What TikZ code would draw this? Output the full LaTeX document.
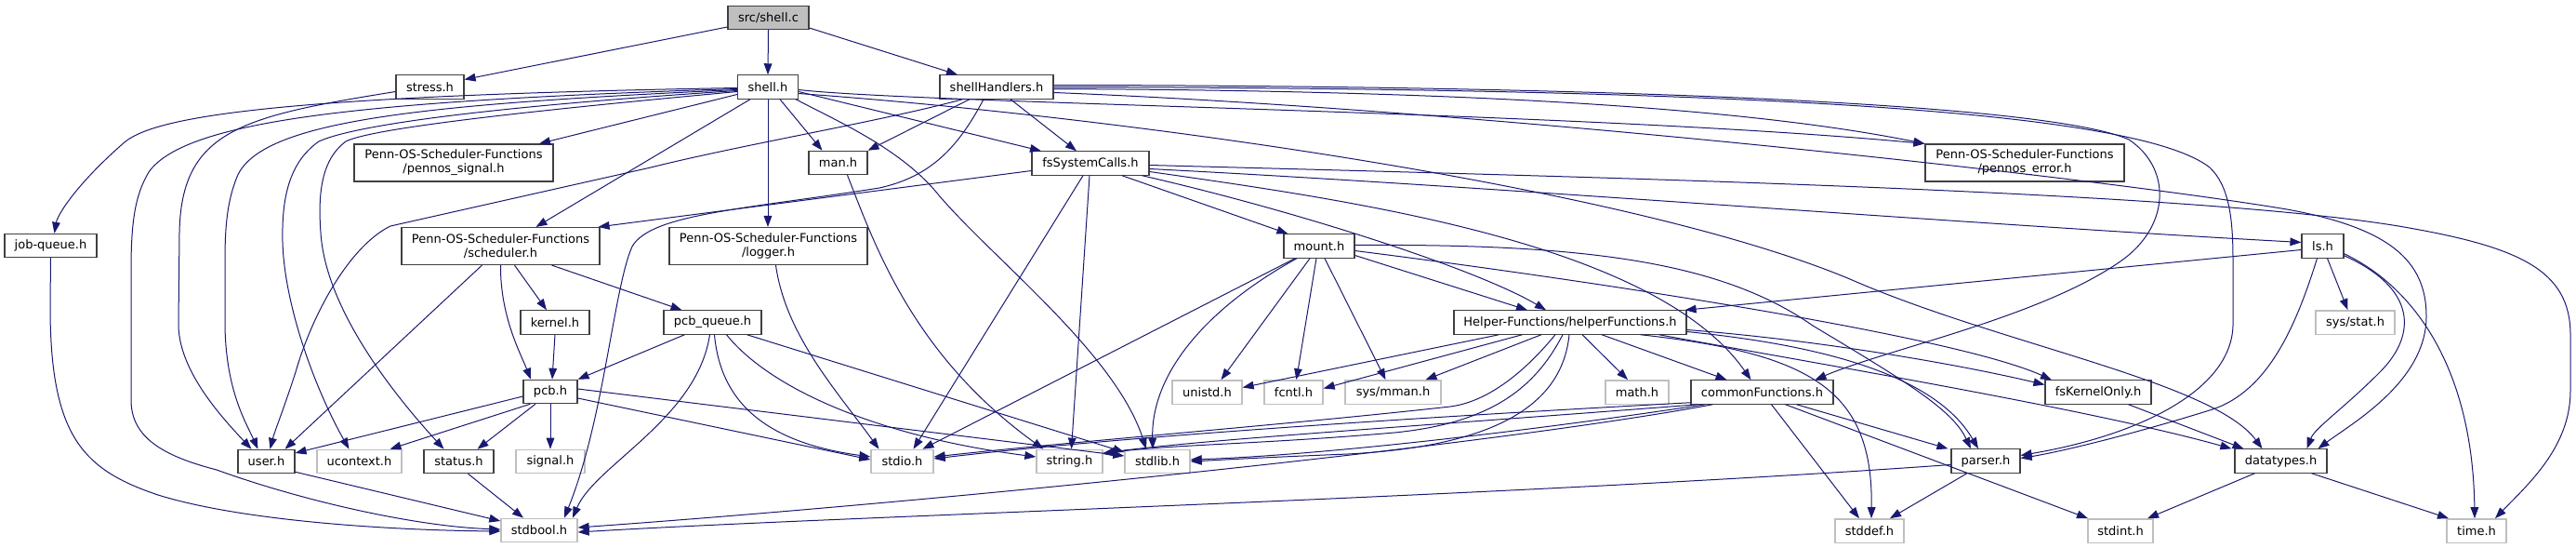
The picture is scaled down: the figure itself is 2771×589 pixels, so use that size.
\documentclass[tikz,border=0pt]{standalone}
\usepackage{fontspec}
\setmainfont{DejaVu Sans}
\usetikzlibrary{arrows.meta,calc}
\definecolor{navy}{HTML}{191970}
\definecolor{dline}{HTML}{404040}
\definecolor{gline}{HTML}{BFBFBF}
\begin{document}
\begin{tikzpicture}[x=0.75pt,y=-0.75pt,
  bw/.style={minimum width=#1*0.75pt},
  base/.style={rectangle,inner sep=0pt,align=center,fill=white,minimum height=19pt,
    font=\fontsize{9.75pt}{11.25pt}\selectfont},
  doc/.style={base,draw=dline,line width=0.85pt},
  sys/.style={base,draw=gline,line width=1pt},
  root/.style={base,draw=dline,line width=0.85pt,fill=gline},
  tall/.style={minimum height=30pt},
  e/.style={draw=navy,line width=0.75pt,-{Triangle[length=9pt,width=6.5pt]}}]
\useasboundingbox (0,0) rectangle (2771,589);
% nodes
\node[root,bw=87] (shellc) at (826.5,19) {src/shell.c};
\node[doc,bw=73] (stress) at (462.5,93.5) {stress.h};
\node[doc,bw=65] (shellh) at (826,93.5) {shell.h};
\node[doc,bw=122] (shellHandlers) at (1072,93.5) {shellHandlers.h};
\node[doc,bw=214,tall] (pennossignal) at (488,175) {Penn-OS-Scheduler-Functions\\/pennos\_signal.h};
\node[doc,bw=63] (manh) at (901.5,175) {man.h};
\node[doc,bw=126] (fsSys) at (1173,175.5) {fsSystemCalls.h};
\node[doc,bw=214,tall] (pennoserror) at (2178,175) {Penn-OS-Scheduler-Functions\\/pennos\_error.h};
\node[doc,bw=99] (jobqueue) at (54.5,264) {job-queue.h};
\node[doc,bw=213,tall] (scheduler) at (538.5,264.5) {Penn-OS-Scheduler-Functions\\/scheduler.h};
\node[doc,bw=213,tall] (logger) at (826.5,264.5) {Penn-OS-Scheduler-Functions\\/logger.h};
\node[doc,bw=76] (mount) at (1419,264.5) {mount.h};
\node[doc,bw=45] (ls) at (2498.5,264.5) {ls.h};
\node[doc,bw=74] (kernel) at (597,346.5) {kernel.h};
\node[doc,bw=105] (pcbqueue) at (766.5,346.5) {pcb\_queue.h};
\node[doc,bw=58] (pcb) at (592,421) {pcb.h};
\node[sys,bw=75] (unistd) at (1298.5,421.5) {unistd.h};
\node[sys,bw=63] (fcntl) at (1391.5,421.5) {fcntl.h};
\node[sys,bw=103] (sysmman) at (1498.5,421.5) {sys/mman.h};
\node[doc,bw=250] (helper) at (1689,346.5) {Helper-Functions/helperFunctions.h};
\node[sys,bw=68] (math) at (1761,421.5) {math.h};
\node[doc,bw=153] (common) at (1895.5,421.5) {commonFunctions.h};
\node[doc,bw=114] (fsKO) at (2257,421.5) {fsKernelOnly.h};
\node[sys,bw=85] (sysstat) at (2533.5,346.5) {sys/stat.h};
\node[doc,bw=74] (parser) at (2136,495.5) {parser.h};
\node[doc,bw=99] (datatypes) at (2453.5,495.5) {datatypes.h};
\node[doc,bw=61] (user) at (286.5,496) {user.h};
\node[sys,bw=91] (ucontext) at (386.5,496) {ucontext.h};
\node[doc,bw=75] (status) at (493.5,496) {status.h};
\node[sys,bw=74] (signal) at (592,496) {signal.h};
\node[sys,bw=67] (stdio) at (970.5,496) {stdio.h};
\node[sys,bw=71] (string) at (1150.5,496) {string.h};
\node[sys,bw=70] (stdlib) at (1245,496) {stdlib.h};
\node[sys,bw=82] (stdbool) at (580,570) {stdbool.h};
\node[sys,bw=74] (stddef) at (2011,570.5) {stddef.h};
\node[sys,bw=70] (stdint) at (2281,570.5) {stdint.h};
\node[sys,bw=64] (time) at (2664,570.5) {time.h};
% shell.c
\draw[e] ($(shellc.west)+(0,10)$) -- ($(stress.east)+(0,-8)$);
\draw[e] (shellc.south) -- (shellh.north);
\draw[e] ($(shellc.east)+(0,11)$) -- ($(shellHandlers.north)+(-42,0)$);
% stress.h
\draw[e] ($(stress.west)+(0,5)$) .. controls (260,125) and (195,140) .. (193,250) -- (192,350) .. controls (193,400) and (240,450) .. ($(user.north)+(-16,0)$);
% shell.h
\draw[e] ($(shellh.west)+(0,1)$) .. controls (300,103) and (170,125) .. (135,152) .. controls (85,195) and (62,230) .. ($(jobqueue.north)+(4,0)$);
\draw[e] ($(shellh.west)+(0,2)$) .. controls (400,108) and (200,128) .. (160,185) .. controls (145,210) and (141,240) .. (141,290) -- (141,430) .. controls (141,470) and (175,490) .. (233,505) .. controls (330,540) and (450,566) .. ($(stdbool.west)+(0,-1)$);
\draw[e] ($(shellh.west)+(0,3)$) .. controls (450,112) and (280,130) .. (255,190) .. controls (245,215) and (242,240) .. (242,280) -- (242,350) .. controls (243,420) and (265,455) .. ($(user.north)+(-9,0)$);
\draw[e] ($(shellh.west)+(0,4)$) .. controls (520,115) and (380,135) .. (343,152) .. controls (310,175) and (303,215) .. (304,260) .. controls (306,330) and (340,420) .. ($(ucontext.north)+(-11,0)$);
\draw[e] ($(shellh.west)+(0,5)$) .. controls (560,120) and (400,138) .. (372,152) .. controls (345,172) and (342,210) .. (345,250) .. controls (350,330) and (420,420) .. ($(status.north)+(-16,0)$);
\draw[e] ($(shellh.west)+(0,8)$) -- ($(pennossignal.north)+(92,0)$);
\draw[e] ($(shellh.south)+(-19,0)$) -- ($(scheduler.north)+(38,0)$);
\draw[e] (shellh.south) -- ($(logger.north)+(-0.5,0)$);
\draw[e] ($(shellh.south)+(13,0)$) -- ($(manh.north)+(-17,0)$);
\draw[e] ($(shellh.south east)+(-3,0)$) .. controls (900,130) and (970,160) .. (1010,210) .. controls (1070,280) and (1200,380) .. ($(stdlib.north)+(-12,0)$);
\draw[e] ($(shellh.east)+(0,5)$) -- ($(fsSys.north)+(-53,0)$);
\draw[e] ($(shellh.east)+(0,3)$) .. controls (1000,112) and (1700,120) .. (pennoserror.north west);
\draw[e] ($(shellh.east)+(0,7)$) .. controls (1200,125) and (1750,200) .. (1990,300) .. controls (2150,370) and (2380,410) .. ($(datatypes.north)+(-20,0)$);
% shellHandlers.h
\draw[e] ($(shellHandlers.east)+(0,2)$) .. controls (1500,97) and (1850,110) .. (pennoserror.north west);
\draw[e] ($(shellHandlers.east)+(0,-2)$) .. controls (1700,92) and (2200,110) .. (2290,150) .. controls (2335,180) and (2335,240) .. (2285,278) .. controls (2200,340) and (2030,375) .. ($(common.north)+(57,0)$);
\draw[e] (shellHandlers.east) .. controls (1900,95) and (2300,120) .. (2377,180) .. controls (2398,200) and (2402,235) .. (2402,280) -- (2402,350) .. controls (2400,420) and (2300,468) .. ($(parser.east)+(0,-6)$);
\draw[e] ($(shellHandlers.east)+(0,6)$) .. controls (1600,118) and (2250,190) .. (2460,225) .. controls (2570,245) and (2610,280) .. (2610,340) .. controls (2610,410) and (2530,455) .. ($(datatypes.north)+(40,0)$);
\draw[e] ($(shellHandlers.south)+(-14,0)$) .. controls (1030,160) and (1000,190) .. (946,202) .. controls (800,225) and (700,230) .. (680,265) .. controls (660,310) and (650,450) .. ($(stdbool.north)+(27,0)$);
\draw[e] ($(shellHandlers.south west)+(25,0)$) .. controls (950,130) and (800,155) .. (700,180) -- (420,243) .. controls (375,265) and (335,340) .. (318,400) .. controls (305,440) and (295,465) .. ($(user.north)+(4,0)$);
\draw[e] ($(shellHandlers.south)+(-29,0)$) -- (manh.north east);
\draw[e] ($(shellHandlers.south)+(15,0)$) -- ($(fsSys.north)+(-15,0)$);
% fsSystemCalls.h
\draw[e] ($(fsSys.east)+(0,2)$) .. controls (1700,190) and (2350,205) .. (2580,243) .. controls (2710,265) and (2765,290) .. (2765,360) -- (2765,420) .. controls (2765,480) and (2720,520) .. ($(time.north)+(20,0)$);
\draw[e] ($(fsSys.east)+(0,6)$) .. controls (1600,200) and (2100,240) .. ($(ls.west)+(0,-4)$);
\draw[e] ($(fsSys.west)+(0,8)$) -- ($(scheduler.north east)+(-2,0)$);
\draw[e] ($(fsSys.south)+(-8,0)$) -- ($(stdio.north)+(12,0)$);
\draw[e] ($(fsSys.south)+(-1,0)$) -- ($(string.north)+(2,0)$);
\draw[e] ($(fsSys.south)+(34,0)$) -- ($(mount.north west)+(5,0)$);
\draw[e] ($(fsSys.south east)+(-8,0)$) .. controls (1400,228) and (1590,290) .. ($(helper.north)+(-26,0)$);
\draw[e] ($(fsSys.east)+(0,9)$) .. controls (1450,215) and (1780,260) .. ($(common.north)+(-12,0)$);
% scheduler.h
\draw[e] ($(scheduler.south)+(15,0)$) -- ($(kernel.north)+(-9,0)$);
\draw[e] ($(scheduler.south)+(55,0)$) -- ($(pcbqueue.north)+(-33,0)$);
\draw[e] (scheduler.south) .. controls (538,340) and (560,380) .. ($(pcb.north)+(-21,0)$);
\draw[e] ($(scheduler.south)+(-20,0)$) -- ($(user.north)+(20,0)$);
% logger, man
\draw[e] ($(logger.south)+(8,0)$) .. controls (845,360) and (900,420) .. ($(stdio.north)+(-25,0)$);
\draw[e] ($(manh.south)+(10,0)$) .. controls (940,260) and (980,380) .. ($(string.north)+(-28,0)$);
% kernel, pcb_queue
\draw[e] (kernel.south) -- ($(pcb.north)+(2,0)$);
\draw[e] ($(pcbqueue.south)+(-30,0)$) -- (pcb.north east);
\draw[e] ($(pcbqueue.south)+(-3,0)$) .. controls (750,450) and (640,500) .. ($(stdbool.north)+(36,0)$);
\draw[e] ($(pcbqueue.south)+(2,0)$) .. controls (775,430) and (820,475) .. ($(stdio.west)+(0,-5)$);
\draw[e] ($(pcbqueue.south)+(15,0)$) .. controls (830,420) and (950,470) .. ($(string.west)+(0,-5)$);
\draw[e] ($(pcbqueue.south)+(37,0)$) -- ($(stdlib.west)+(0,-10)$);
% pcb.h
\draw[e] ($(pcb.west)+(0,5)$) -- ($(user.east)+(0,-9)$);
\draw[e] ($(pcb.south west)+(8,0)$) -- ($(ucontext.north)+(33,0)$);
\draw[e] ($(pcb.south)+(-16,0)$) -- ($(status.north)+(20,0)$);
\draw[e] (pcb.south) -- (signal.north);
\draw[e] ($(pcb.east)+(0,7)$) -- ($(stdio.west)+(0,-2)$);
\draw[e] ($(pcb.east)+(0,-3)$) -- ($(stdlib.west)+(0,-6)$);
% user, status, job-queue
\draw[e] ($(user.south east)+(0,-2)$) -- ($(stdbool.west)+(0,-10)$);
\draw[e] ($(status.south)+(10,0)$) -- ($(stdbool.north)+(-17,0)$);
\draw[e] (jobqueue.south) -- (54,330) .. controls (54,470) and (90,505) .. (170,532) .. controls (260,560) and (420,570) .. ($(stdbool.west)+(0,1)$);
% mount.h
\draw[e] ($(mount.south)+(-26,0)$) -- ($(stdio.north)+(22,0)$);
\draw[e] ($(mount.south)+(-24,0)$) .. controls (1300,330) and (1238,400) .. ($(stdlib.north)+(-5,0)$);
\draw[e] ($(mount.south)+(-10,0)$) -- ($(unistd.north)+(15,0)$);
\draw[e] ($(mount.south)+(-3,0)$) -- ($(fcntl.north)+(3,0)$);
\draw[e] ($(mount.south)+(6,0)$) -- ($(sysmman.north)+(-8,0)$);
\draw[e] ($(mount.east)+(0,10)$) -- ($(helper.north)+(-46,0)$);
\draw[e] ($(mount.east)+(0,5)$) .. controls (1700,300) and (2100,360) .. ($(fsKO.north)+(-50,0)$);
\draw[e] ($(mount.east)+(0,-1)$) .. controls (1700,262) and (1850,280) .. (1950,350) .. controls (2050,410) and (2100,440) .. ($(parser.north)+(-16,0)$);
% helperFunctions.h
\draw[e] ($(helper.south west)+(49,0)$) -- ($(unistd.east)+(0,-5)$);
\draw[e] ($(helper.south west)+(74,0)$) -- ($(fcntl.east)+(0,-4)$);
\draw[e] ($(helper.south)+(-31,0)$) -- ($(sysmman.north)+(35,0)$);
\draw[e] ($(helper.south)+(-16,0)$) .. controls (1640,400) and (1600,432) .. (1560,437) .. controls (1400,455) and (1150,475) .. ($(stdio.east)+(0,-5)$);
\draw[e] ($(helper.south)+(-8,0)$) .. controls (1650,420) and (1600,455) .. (1500,465) .. controls (1350,478) and (1250,478) .. ($(string.east)+(0,-8)$);
\draw[e] ($(helper.south)+(-1,0)$) .. controls (1680,440) and (1600,480) .. (1450,488) .. controls (1350,492) and (1300,495) .. (stdlib.east);
\draw[e] ($(helper.south)+(13,0)$) -- ($(math.north)+(-10,0)$);
\draw[e] ($(helper.south)+(34,0)$) -- ($(common.north)+(-38,0)$);
\draw[e] ($(helper.east)+(0,8)$) .. controls (1950,365) and (2100,390) .. ($(fsKO.west)+(0,-8)$);
\draw[e] ($(helper.east)+(0,10)$) .. controls (1950,370) and (2080,400) .. ($(parser.north)+(-8,0)$);
\draw[e] ($(helper.south east)+(-30,0)$) .. controls (1950,390) and (2250,440) .. ($(datatypes.north west)+(-3,0)$);
\draw[e] ($(helper.south east)+(-50,0)$) .. controls (1950,380) and (2015,420) .. ($(stddef.north)+(2,0)$);
% commonFunctions.h
\draw[e] ($(common.south west)+(0,-2)$) .. controls (1500,450) and (1200,470) .. ($(stdio.east)+(0,-3)$);
\draw[e] ($(common.south west)+(8,0)$) .. controls (1500,460) and (1300,472) .. ($(string.east)+(0,-9)$);
\draw[e] ($(common.south west)+(16,0)$) .. controls (1600,470) and (1400,490) .. ($(stdlib.east)+(0,-2)$);
\draw[e] ($(common.south west)+(24,0)$) .. controls (1600,480) and (1000,540) .. ($(stdbool.east)+(0,-3)$);
\draw[e] ($(common.south)+(37,0)$) -- ($(parser.north west)+(-3,0)$);
\draw[e] ($(common.south)+(10,0)$) -- ($(stddef.north)+(-11,0)$);
\draw[e] ($(common.south)+(25,0)$) -- ($(stdint.north)+(-35,0)$);
% fsKernelOnly, ls, parser, datatypes
\draw[e] ($(fsKO.south east)+(-25,0)$) -- ($(datatypes.north)+(-40,0)$);
\draw[e] ($(ls.west)+(0,4)$) -- ($(helper.north east)+(-2,0)$);
\draw[e] ($(ls.south)+(5,0)$) -- ($(sysstat.north)+(-8,0)$);
\draw[e] ($(ls.south)+(-6,0)$) .. controls (2470,350) and (2440,420) .. (2380,440) .. controls (2300,465) and (2220,485) .. ($(parser.east)+(0,-3)$);
\draw[e] ($(ls.south east)+(0,-3)$) .. controls (2600,310) and (2600,360) .. (2560,400) .. controls (2520,440) and (2490,460) .. ($(datatypes.north)+(28,0)$);
\draw[e] ($(ls.south east)+(0,-5)$) .. controls (2600,310) and (2660,400) .. ($(time.north)+(-2,0)$);
\draw[e] ($(parser.south)+(-20,0)$) -- ($(stddef.north)+(22,0)$);
\draw[e] ($(parser.west)+(0,4)$) .. controls (1600,535) and (900,555) .. ($(stdbool.east)+(0,2)$);
\draw[e] ($(datatypes.south)+(-28,0)$) -- ($(stdint.north)+(29,0)$);
\draw[e] ($(datatypes.south)+(33,0)$) -- ($(time.north)+(-30,0)$);
\end{tikzpicture}
\end{document}
